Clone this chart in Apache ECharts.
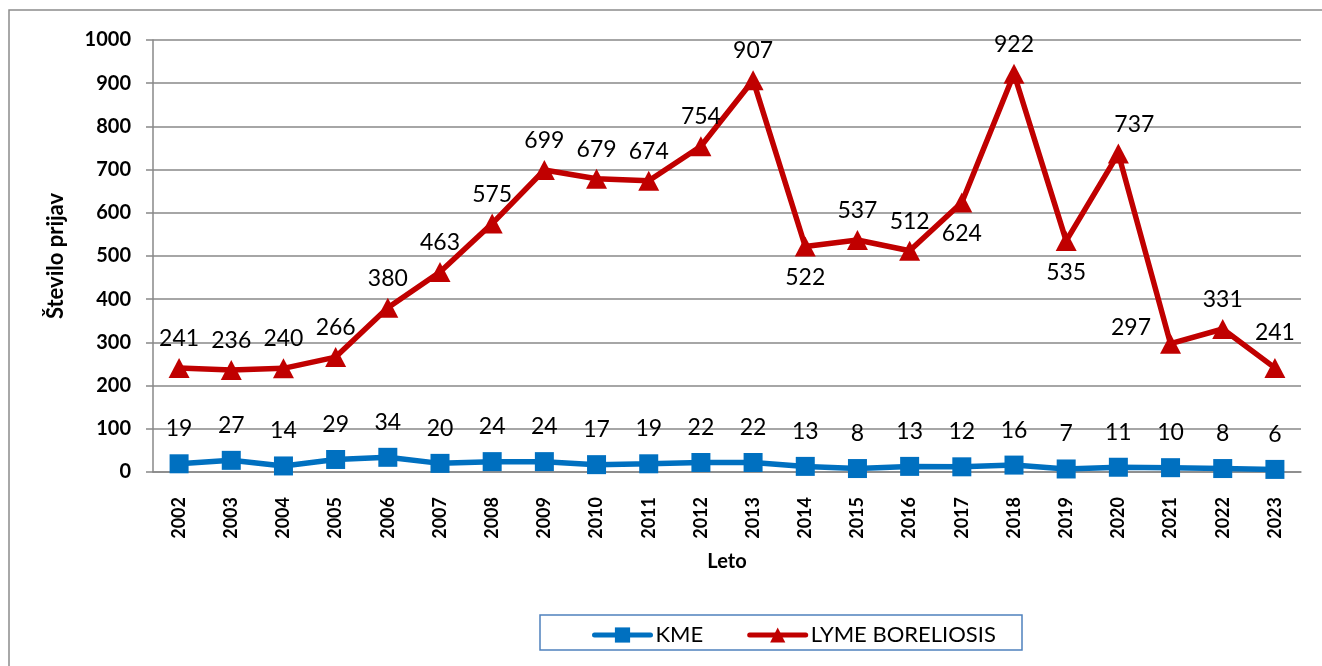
<!DOCTYPE html>
<html>
<head>
<meta charset="utf-8">
<script src="https://cdn.jsdelivr.net/npm/echarts@6/dist/echarts.min.js"></script>
<style>
html, body { margin: 0; padding: 0; background: #fff; }
#main { width: 1322px; height: 666px; }
</style>
</head>
<body>
<div id="main"></div>
<script>
// podatki
var years = ['2002', '2003', '2004', '2005', '2006', '2007', '2008', '2009', '2010', '2011', '2012',
	'2013', '2014', '2015', '2016', '2017', '2018', '2019', '2020', '2021', '2022', '2023'];
var kme = [19, 27, 14, 29, 34, 20, 24, 24, 17, 19, 22, 22, 13, 8, 13, 12, 16, 7, 11, 10, 8, 6];
var lyme = [241, 236, 240, 266, 380, 463, 575, 699, 679, 674, 754, 907, 522, 537, 512, 624, 922, 535, 737, 297, 331, 241];
// oznake pod tocko
var lymeBelow = ['2014', '2017', '2019'];

var font = 'Lato, "Open Sans", sans-serif';

var lymeData = [];
for (var i = 0; i < lyme.length; i++) {
	var item = { value: lyme[i] };
	if (lymeBelow.indexOf(years[i]) >= 0) {
		item.label = { position: 'bottom', distance: 10 };
	}
	if (years[i] == '2020') {
		item.label = { position: 'top', offset: [16, 0] };
	}
	if (years[i] == '2021') {
		item.label = { position: 'left', distance: 9, offset: [0, -16] };
	}
	if (years[i] == '2023') {
		item.label = { position: 'top', distance: 14 };
	}
	lymeData.push(item);
}

var myChart = echarts.init(document.getElementById('main'));
myChart.setOption({
	animation: false,
	textStyle: { fontFamily: font },
	graphic: [{
		type: 'rect',
		shape: { x: 9, y: 10, width: 1330, height: 680 },
		style: { fill: 'none', stroke: '#8c8c8c', lineWidth: 1.5 },
		silent: true
	}, {
		type: 'rect',
		shape: { x: 540, y: 615, width: 482, height: 35 },
		style: { fill: '#fff', stroke: '#4F81BD', lineWidth: 1.5 },
		silent: true,
		z: -1
	}],
	grid: {
		left: 153,
		right: 21,
		top: 40,
		bottom: 194
	},
	legend: {
		left: 587,
		top: 619,
		itemWidth: 56,
		itemHeight: 19,
		itemGap: 44,
		lineStyle: { width: 5, cap: 'round' },
		textStyle: { fontSize: 22, color: '#000', fontFamily: font },
		data: ['KME', 'LYME BORELIOSIS']
	},
	xAxis: {
		type: 'category',
		data: years,
		name: 'Leto',
		nameLocation: 'middle',
		nameGap: 80,
		nameTextStyle: { fontSize: 20, fontWeight: 'bold', color: '#000' },
		axisLine: { lineStyle: { color: '#888', width: 1.5 } },
		axisTick: { show: false },
		axisLabel: {
			rotate: 90,
			fontSize: 18,
			fontWeight: 'bold',
			color: '#000',
			margin: 25
		}
	},
	yAxis: {
		type: 'value',
		min: 0,
		max: 1000,
		interval: 100,
		name: 'Število prijav',
		nameLocation: 'middle',
		nameGap: 86,
		nameTextStyle: { fontSize: 22, fontWeight: 'bold', color: '#000' },
		axisLine: { show: true, lineStyle: { color: '#888', width: 1.5 } },
		axisTick: { show: true, length: 7, lineStyle: { color: '#888', width: 1.5 } },
		axisLabel: {
			fontSize: 20,
			fontWeight: 'bold',
			color: '#000',
			margin: 22,
			formatter: function(v) { return String(v); }
		},
		splitLine: { lineStyle: { color: '#888', width: 1.5 } }
	},
	series: [{
		name: 'KME',
		type: 'line',
		data: kme,
		symbol: 'rect',
		symbolSize: 19,
		color: '#0070C0',
		lineStyle: { width: 5.5, color: '#0070C0' },
		label: {
			show: true,
			position: 'top',
			distance: 14,
			fontSize: 23,
			color: '#000'
		}
	}, {
		name: 'LYME BORELIOSIS',
		type: 'line',
		data: lymeData,
		symbol: 'triangle',
		symbolSize: [21, 20],
		color: '#C00000',
		lineStyle: { width: 5.5, color: '#C00000' },
		label: {
			show: true,
			position: 'top',
			distance: 8,
			fontSize: 23,
			color: '#000'
		}
	}]
});
</script>
</body>
</html>
